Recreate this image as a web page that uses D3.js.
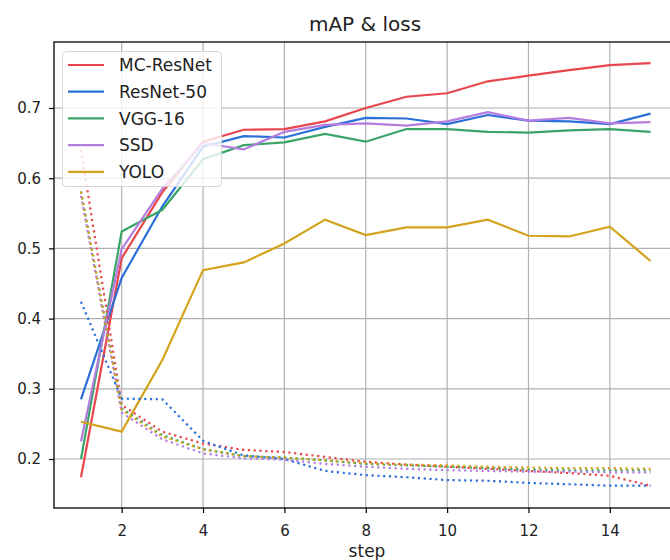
<!DOCTYPE html>
<html>
<head>
<meta charset="utf-8">
<style>
  body { margin: 0; background: #fff; }
  * { font-family: "DejaVu Sans", sans-serif; }
</style>
<script src="https://d3js.org/d3.v7.min.js"></script>
</head>
<body>
<div id="chart"></div>
<script>
const steps = [1, 2, 3, 4, 5, 6, 7, 8, 9, 10, 11, 12, 13, 14, 15]
const models = ["MC-ResNet", "ResNet-50", "VGG-16", "SSD", "YOLO"]
const colors = ["#e8464c", "#2a70d8", "#3aa466", "#b47de0", "#d3a31e"]

// mAP per step
const mapMC     = [0.174, 0.486, 0.580, 0.652, 0.669, 0.670, 0.681, 0.700, 0.716, 0.721, 0.738, 0.746, 0.754, 0.761, 0.764]
const mapResNet = [0.285, 0.458, 0.560, 0.645, 0.660, 0.658, 0.673, 0.686, 0.685, 0.677, 0.690, 0.682, 0.681, 0.677, 0.692]
const mapVGG    = [0.200, 0.524, 0.555, 0.627, 0.647, 0.651, 0.663, 0.652, 0.670, 0.670, 0.666, 0.665, 0.668, 0.670, 0.666]
const mapSSD    = [0.225, 0.499, 0.585, 0.650, 0.641, 0.666, 0.676, 0.678, 0.675, 0.681, 0.694, 0.682, 0.686, 0.678, 0.680]
const mapYOLO   = [0.253, 0.239, 0.341, 0.469, 0.480, 0.507, 0.541, 0.519, 0.530, 0.530, 0.541, 0.518, 0.517, 0.531, 0.482]

// loss per step
const lossMC     = [0.640, 0.277, 0.239, 0.222, 0.213, 0.210, 0.203, 0.196, 0.192, 0.189, 0.186, 0.183, 0.180, 0.176, 0.162]
const lossResNet = [0.424, 0.286, 0.285, 0.226, 0.205, 0.200, 0.183, 0.177, 0.174, 0.170, 0.169, 0.166, 0.164, 0.162, 0.162]
const lossVGG    = [0.581, 0.272, 0.234, 0.214, 0.204, 0.202, 0.198, 0.193, 0.191, 0.189, 0.187, 0.185, 0.184, 0.184, 0.184]
const lossSSD    = [0.575, 0.266, 0.228, 0.208, 0.201, 0.199, 0.193, 0.189, 0.186, 0.184, 0.183, 0.182, 0.182, 0.181, 0.181]
const lossYOLO   = [0.581, 0.270, 0.232, 0.214, 0.204, 0.202, 0.198, 0.194, 0.192, 0.191, 0.189, 0.188, 0.187, 0.187, 0.186]

const xTicks = [2, 4, 6, 8, 10, 12, 14]
const yTicks = [0.2, 0.3, 0.4, 0.5, 0.6, 0.7]

const mapSeries = [mapMC, mapResNet, mapVGG, mapSSD, mapYOLO]
const lossSeries = [lossMC, lossResNet, lossVGG, lossSSD, lossYOLO]

var w = 670, h = 560
var plot = {left: 54, right: 679, top: 42, bottom: 508}

var svg = d3.select("#chart").append("svg")
  .attr("width", w).attr("height", h)

var x = d3.scaleLinear().domain([0.3365, 15.7]).range([plot.left, plot.right])
var y = d3.scaleLinear().domain([0.1302, 0.794]).range([plot.bottom, plot.top])

// grid
svg.append("g").selectAll("line").data(xTicks).enter().append("line")
  .attr("x1", d => x(d)).attr("x2", d => x(d))
  .attr("y1", plot.top).attr("y2", plot.bottom)
  .style("stroke", "#b0b0b0").style("stroke-width", 1.2)
svg.append("g").selectAll("line").data(yTicks).enter().append("line")
  .attr("x1", plot.left).attr("x2", plot.right)
  .attr("y1", d => y(d)).attr("y2", d => y(d))
  .style("stroke", "#b0b0b0").style("stroke-width", 1.2)

// axes
var xAxis = svg.append("g")
  .attr("transform", "translate(0," + plot.bottom + ")")
  .call(d3.axisBottom(x).tickValues(xTicks).tickFormat(d3.format("d")).tickSize(5).tickPadding(12))
var yAxis = svg.append("g")
  .attr("transform", "translate(" + plot.left + ",0)")
  .call(d3.axisLeft(y).tickValues(yTicks).tickFormat(d3.format(".1f")).tickSize(5).tickPadding(8))
;[xAxis, yAxis].forEach(a => {
  a.select(".domain").remove()
  a.selectAll(".tick line").style("stroke", "#000").style("stroke-width", 1.2)
  a.selectAll(".tick text").style("font-size", "15px").style("fill", "#222")
    .style("font-family", "DejaVu Sans")
})

// lines
var line = d3.line().x((d, i) => x(steps[i])).y(d => y(d))

svg.append("g").selectAll("path").data(mapSeries).enter().append("path")
  .attr("d", d => line(d))
  .style("fill", "none")
  .style("stroke", (d, i) => colors[i])
  .style("stroke-width", 2.2)

svg.append("g").selectAll("path").data(lossSeries).enter().append("path")
  .attr("d", d => line(d))
  .style("fill", "none")
  .style("stroke", (d, i) => colors[i])
  .style("stroke-width", 2.2)
  .style("stroke-dasharray", "2.2,3.6")

// spines
svg.append("rect")
  .attr("x", plot.left).attr("y", plot.top)
  .attr("width", plot.right - plot.left).attr("height", plot.bottom - plot.top)
  .style("fill", "none").style("stroke", "#000").style("stroke-width", 1.3)

// title and label
svg.append("text").attr("x", 365).attr("y", 31)
  .attr("text-anchor", "middle").style("font-size", "20px").style("fill", "#222")
  .text("mAP & loss")
svg.append("text").attr("x", 367).attr("y", 557)
  .attr("text-anchor", "middle").style("font-size", "17px").style("fill", "#222")
  .text("step")

// legend
var legend = svg.append("g")
legend.append("rect")
  .attr("x", 62.5).attr("y", 51.5).attr("width", 159).attr("height", 135).attr("rx", 4)
  .style("fill", "#fff").style("fill-opacity", 0.8)
  .style("stroke", "#d6d6d6").style("stroke-width", 1)
var items = legend.selectAll(".item").data(models).enter().append("g")
  .attr("transform", (d, i) => "translate(0," + (65 + i * 26.7) + ")")
items.append("line")
  .attr("x1", 68).attr("x2", 104).attr("y1", 0).attr("y2", 0)
  .style("stroke", (d, i) => colors[i]).style("stroke-width", 2.2)
items.append("text")
  .attr("x", 119).attr("y", 0).attr("dy", "0.36em")
  .style("font-size", "17px").style("fill", "#222")
  .text(d => d)
</script>
</body>
</html>
